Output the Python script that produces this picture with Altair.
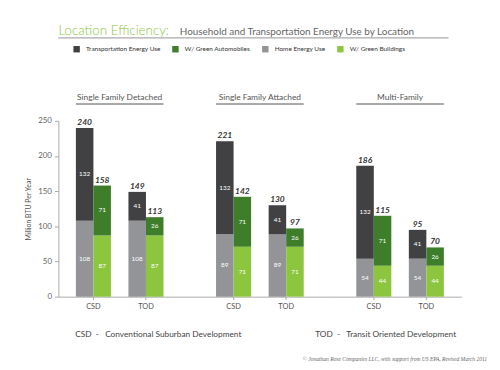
import altair as alt
import pandas as pd

groups = ["Single Family Detached", "Single Family Attached", "Multi-Family"]
locations = ["CSD", "TOD"]
series_names = ["Transportation Energy Use", "W/ Green Automobiles", "Home Energy Use", "W/ Green Buildings"]
series_colors = ["#414143", "#3e7d2a", "#939497", "#8cc63f"]

# per group x location: SFD-CSD, SFD-TOD, SFA-CSD, SFA-TOD, MF-CSD, MF-TOD
home_energy = [108, 108, 89, 89, 54, 54]
transport_energy = [132, 41, 132, 41, 132, 41]
green_buildings = [87, 87, 71, 71, 44, 44]
green_autos = [71, 26, 71, 26, 71, 26]

rows = []
i = 0
for g in groups:
    for loc in locations:
        rows.append(dict(group=g, location=loc, scenario="Current", series="Home Energy Use", value=home_energy[i], order=0))
        rows.append(dict(group=g, location=loc, scenario="Current", series="Transportation Energy Use", value=transport_energy[i], order=1))
        rows.append(dict(group=g, location=loc, scenario="Green", series="W/ Green Buildings", value=green_buildings[i], order=0))
        rows.append(dict(group=g, location=loc, scenario="Green", series="W/ Green Automobiles", value=green_autos[i], order=1))
        i += 1
df = pd.DataFrame(rows)

FONT = "Lato"
H = 178
widths = [133, 142, 133]
pad_outer = [5 / 12, 0.5, 5 / 12]
aligns = [0.4, 0.5, 0.6]
ydomain = [0, 250]


def panel(k):
    g = groups[k]
    w = widths[k]
    base = alt.Chart(df).transform_filter(alt.datum.group == g)
    xenc = alt.X(
        "location:N",
        sort=locations,
        scale=alt.Scale(paddingInner=1 / 3, paddingOuter=pad_outer[k], align=aligns[k]),
        axis=alt.Axis(title=None, labelAngle=0, labelFont=FONT, labelFontSize=7.5, labelColor="#555",
                      domainColor="#aaa", tickColor="#aaa", tickSize=3, labelPadding=3, domainWidth=1),
    )
    xoff = alt.XOffset("scenario:N", sort=["Current", "Green"], scale=alt.Scale(paddingInner=0, paddingOuter=0))
    if k == 0:
        yaxis = alt.Axis(values=[0, 50, 100, 150, 200, 250], grid=False, title="Million BTU Per Year",
                         titleFont=FONT, titleFontSize=7, titleFontWeight="normal", titleColor="#555",
                         titlePadding=6, labelFont=FONT, labelFontSize=8, labelColor="#666",
                         domainColor="#aaa", tickColor="#aaa", tickSize=4, labelPadding=3)
    else:
        yaxis = None
    bars = base.mark_bar().encode(
        x=xenc,
        xOffset=xoff,
        y=alt.Y("value:Q", stack="zero", scale=alt.Scale(domain=ydomain), axis=yaxis),
        color=alt.Color("series:N", scale=alt.Scale(domain=series_names, range=series_colors),
                        legend=alt.Legend(title=None, orient="none", direction="horizontal",
                                          legendX=15, legendY=-76, symbolType="square", symbolSize=42,
                                          symbolStrokeWidth=0, labelFont=FONT, labelFontSize=6.5,
                                          labelColor="#333", labelOffset=6, columnPadding=11)),
        order=alt.Order("order:Q"),
    )
    seg = base.transform_stack(
        stack="value", groupby=["location", "scenario"], as_=["v0", "v1"],
        sort=[alt.SortField("order", "ascending")]
    ).transform_calculate(mid="(datum.v0 + datum.v1) / 2").mark_text(
        font=FONT, fontSize=6.5, color="white"
    ).encode(
        x=xenc, xOffset=xoff,
        y=alt.Y("mid:Q", scale=alt.Scale(domain=ydomain), axis=yaxis),
        text="value:Q",
    )
    tot = base.transform_aggregate(
        total="sum(value)", groupby=["location", "scenario"]
    ).mark_text(font=FONT, fontSize=8.5, fontWeight="bold", fontStyle="italic", color="#333",
                baseline="alphabetic", dy=-3).encode(
        x=xenc, xOffset=xoff,
        y=alt.Y("total:Q", scale=alt.Scale(domain=ydomain), axis=yaxis),
        text="total:Q",
    )
    # group title and underline
    step = w / (2 - 1 / 3 + 2 * pad_outer[k])
    left = pad_outer[k] * 2 * aligns[k] * step
    right = left + step * (2 - 1 / 3)
    gtitle = alt.Chart(pd.DataFrame({"t": [g]})).mark_text(
        font=FONT, fontSize=8.5, color="#555", baseline="alphabetic", align="center"
    ).encode(x=alt.value((left + right) / 2), y=alt.value(-21), text="t:N")
    gline = alt.Chart(pd.DataFrame({"t": [g]})).mark_rule(color="#aaa", strokeWidth=2).encode(
        x=alt.value(left), x2=alt.value(right), y=alt.value(-17)
    )
    layers = [bars, seg, tot, gtitle, gline]
    if k == 0:
        hdr = pd.DataFrame({"t": ["Location Efficiency:"]})
        layers.append(alt.Chart(hdr).mark_text(font=FONT, fontSize=13.5, color="#8dc63f", align="left",
                                               baseline="alphabetic", fontWeight=300)
                      .encode(x=alt.value(0), y=alt.value(-87), text="t:N"))
        sub = pd.DataFrame({"t": ["Household and Transportation Energy Use by Location"]})
        layers.append(alt.Chart(sub).mark_text(font=FONT, fontSize=10, color="#666", align="left",
                                               baseline="alphabetic")
                      .encode(x=alt.value(123), y=alt.value(-87), text="t:N"))
        layers.append(alt.Chart(sub).mark_rule(color="#aaa", strokeWidth=1.5)
                      .encode(x=alt.value(0), x2=alt.value(395), y=alt.value(-84)))
        f1 = pd.DataFrame({"t": ["CSD\u00a0\u00a0-\u00a0\u00a0\u00a0Conventional Suburban Development"]})
        layers.append(alt.Chart(f1).mark_text(font=FONT, fontSize=8.4, color="#444", align="left",
                                              baseline="middle")
                      .encode(x=alt.value(17), y=alt.value(216), text="t:N"))
        f2 = pd.DataFrame({"t": ["TOD\u00a0\u00a0-\u00a0\u00a0\u00a0Transit Oriented Development"]})
        layers.append(alt.Chart(f2).mark_text(font=FONT, fontSize=8.4, color="#444", align="left",
                                              baseline="middle")
                      .encode(x=alt.value(260), y=alt.value(216), text="t:N"))
        f3 = pd.DataFrame({"t": ["\u00a9 Jonathan Rose Companies LLC, with support from US EPA, Revised March 2011"]})
        layers.append(alt.Chart(f3).mark_text(font="Liberation Serif", fontSize=5.6, fontStyle="italic",
                                              color="#666", align="right", baseline="middle")
                      .encode(x=alt.value(434), y=alt.value(241), text="t:N"))
    return alt.layer(*layers).properties(width=w, height=H)


chart = alt.hconcat(panel(0), panel(1), panel(2), spacing=0, bounds="flush").resolve_scale(
    x="independent", xOffset="independent"
).properties(
    padding={"left": 17, "top": 14, "right": 5, "bottom": 5}
).configure_view(stroke=None)

chart.save("out.html", embed_options={"renderer": "svg", "actions": False})
